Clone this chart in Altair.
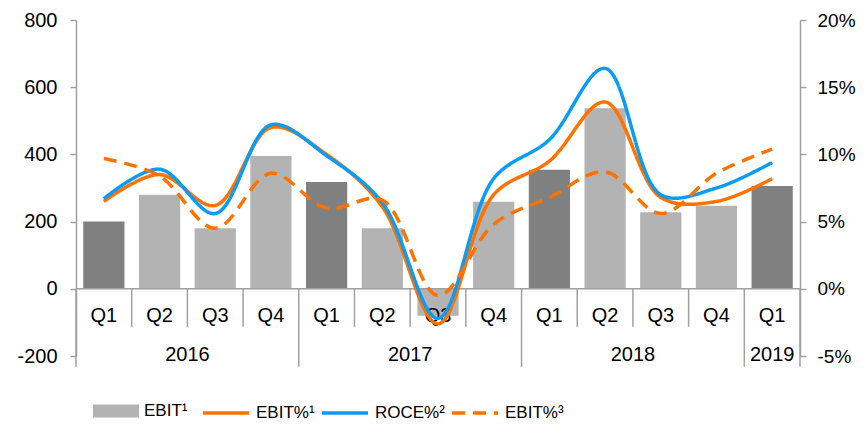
import altair as alt
import pandas as pd

# ---- data ----
quarters = ["Q1", "Q2", "Q3", "Q4", "Q1", "Q2", "Q3", "Q4", "Q1", "Q2", "Q3", "Q4", "Q1"]
years = ["2016", "2017", "2018", "2019"]
quarters_per_year = [4, 4, 4, 1]
ebit = [200, 280, 180, 395, 318, 180, -80, 259, 354, 537, 228, 247, 306]
ebit_pct1 = [6.5, 8.5, 6.2, 12.0, 10.0, 6.1, -2.6, 7.0, 9.5, 13.9, 6.8, 6.5, 8.2]
roce_pct2 = [6.7, 8.9, 5.6, 12.2, 9.9, 6.4, -2.2, 8.2, 11.1, 16.4, 7.0, 7.5, 9.4]
ebit_pct3 = [9.7, 8.4, 4.5, 8.6, 6.0, 6.6, -0.5, 4.8, 6.8, 8.7, 5.6, 8.6, 10.4]
left_ticks = [-200, 0, 200, 400, 600, 800]
right_ticks = [-5, 0, 5, 10, 15, 20]
series_names = ["EBIT%¹", "ROCE%²", "EBIT%³"]
bar_name = "EBIT¹"

# ---- style ----
FONT = "Liberation Sans"
ORANGE = "#FF7200"
BLUE = "#0A9CF5"
LIGHT = "#B3B3B3"
DARK = "#808080"
AXIS = "#A0A0A0"
W, H = 724, 336

n = len(quarters)
xs = alt.Scale(domain=[0, n], nice=False, zero=False)
ys_left = alt.Scale(domain=[-200, 800], nice=False)
left_axis = alt.Axis(
    orient="left", values=left_ticks, grid=False, title=None,
    labelExpr="datum.value + ''",
    domainColor=AXIS, domainWidth=1.5, tickColor=AXIS, tickWidth=1.5,
    tickSize=6, labelPadding=13, labelFontSize=20, labelFont=FONT,
    labelColor="black",
)


def X(field):
    return alt.X(field, scale=xs, axis=None)


def YL(field):
    return alt.Y(field, scale=ys_left, axis=left_axis)


bars_df = pd.DataFrame({
    "i": list(range(n)),
    "q": quarters,
    "ebit": ebit,
})
bars_df["x0"] = bars_df["i"] + 0.13
bars_df["x1"] = bars_df["i"] + 0.87
bars_df["xc"] = bars_df["i"] + 0.5
bars_df["z"] = 0
bars_df["shade"] = [bar_name + " Q1" if q == "Q1" else bar_name for q in quarters]

# year boundaries and centres
bounds = [0]
for c in quarters_per_year:
    bounds.append(bounds[-1] + c)
years_df = pd.DataFrame({
    "year": years,
    "xc": [(bounds[k] + bounds[k + 1]) / 2 for k in range(len(years))],
    "z": [0] * len(years),
})
long_seps = pd.DataFrame({"x": bounds, "y0": [0] * len(bounds), "y1": [-232] * len(bounds)})
short_x = [k for k in range(1, n) if k not in bounds]
short_seps = pd.DataFrame({"x": short_x, "y0": [0] * len(short_x), "y1": [-113] * len(short_x)})

rows = []
for name, vals in zip(series_names, [ebit_pct1, roce_pct2, ebit_pct3]):
    for k, v in enumerate(vals):
        rows.append({"xc": k + 0.5, "series": name, "value": v})
lines_df = pd.DataFrame(rows)

bars = alt.Chart(bars_df).mark_bar().encode(
    x=X("x0:Q"),
    x2="x1:Q",
    y=YL("ebit:Q"),
    y2="z:Q",
    fill=alt.Fill(
        "shade:N",
        scale=alt.Scale(domain=[bar_name, bar_name + " Q1"], range=[LIGHT, DARK]),
        legend=alt.Legend(
            values=[bar_name], title=None, orient="none", legendX=17, legendY=368,
            symbolType="M-1,-0.28H1V0.28H-1Z", symbolSize=2116, symbolStrokeWidth=0,
            labelFontSize=17, labelFont=FONT, labelColor="black", labelOffset=5,
        ),
    ),
)

zero_line = alt.Chart(pd.DataFrame({"a": [0], "b": [n], "z": [0]})).mark_rule(
    color=AXIS, strokeWidth=1.5
).encode(x=X("a:Q"), x2="b:Q", y=YL("z:Q"))

short_rules = alt.Chart(short_seps).mark_rule(color=AXIS, strokeWidth=1.5).encode(
    x=X("x:Q"), y=YL("y0:Q"), y2="y1:Q"
)
long_rules = alt.Chart(long_seps).mark_rule(color=AXIS, strokeWidth=1.5).encode(
    x=X("x:Q"), y=YL("y0:Q"), y2="y1:Q"
)

q_text = alt.Chart(bars_df).mark_text(
    font=FONT, fontSize=20, color="black", baseline="middle", dy=27.5
).encode(x=X("xc:Q"), y=YL("z:Q"), text="q:N")

y_text = alt.Chart(years_df).mark_text(
    font=FONT, fontSize=20, color="black", baseline="middle", dy=66
).encode(x=X("xc:Q"), y=YL("z:Q"), text="year:N")

left_layer = alt.layer(bars, zero_line, short_rules, long_rules, q_text, y_text)

line_legend = alt.Legend(
    title=None, orient="none", legendX=125, legendY=368, direction="horizontal",
    symbolType="stroke", symbolSize=2116, symbolStrokeWidth=3.5,
    labelFontSize=17, labelFont=FONT, labelColor="black", labelOffset=5,
    columnPadding=0,
)
lines = alt.Chart(lines_df).mark_line(
    interpolate="catmull-rom", strokeWidth=3.5
).encode(
    x=X("xc:Q"),
    y=alt.Y(
        "value:Q",
        scale=alt.Scale(domain=[-5, 20], nice=False),
        axis=alt.Axis(
            orient="right", values=right_ticks, grid=False, title=None,
            labelExpr="datum.value + '%'",
            domainColor=AXIS, domainWidth=1.5, tickColor=AXIS, tickWidth=1.5,
            tickSize=6, labelPadding=11, labelFontSize=19, labelFont=FONT,
            labelColor="black",
        ),
    ),
    color=alt.Color(
        "series:N",
        scale=alt.Scale(domain=series_names, range=[ORANGE, BLUE, ORANGE]),
        legend=line_legend,
    ),
    strokeDash=alt.StrokeDash(
        "series:N",
        scale=alt.Scale(domain=series_names, range=[[1, 0], [1, 0], [13, 8]]),
        legend=line_legend,
    ),
)

chart = alt.layer(left_layer, lines).resolve_scale(
    y="independent"
).properties(
    width=W, height=H, autosize="none",
    padding={"left": 68, "top": 12, "right": 57, "bottom": 68},
).configure_view(stroke=None)

chart.save("out.html", embed_options={"renderer": "svg", "actions": False})
